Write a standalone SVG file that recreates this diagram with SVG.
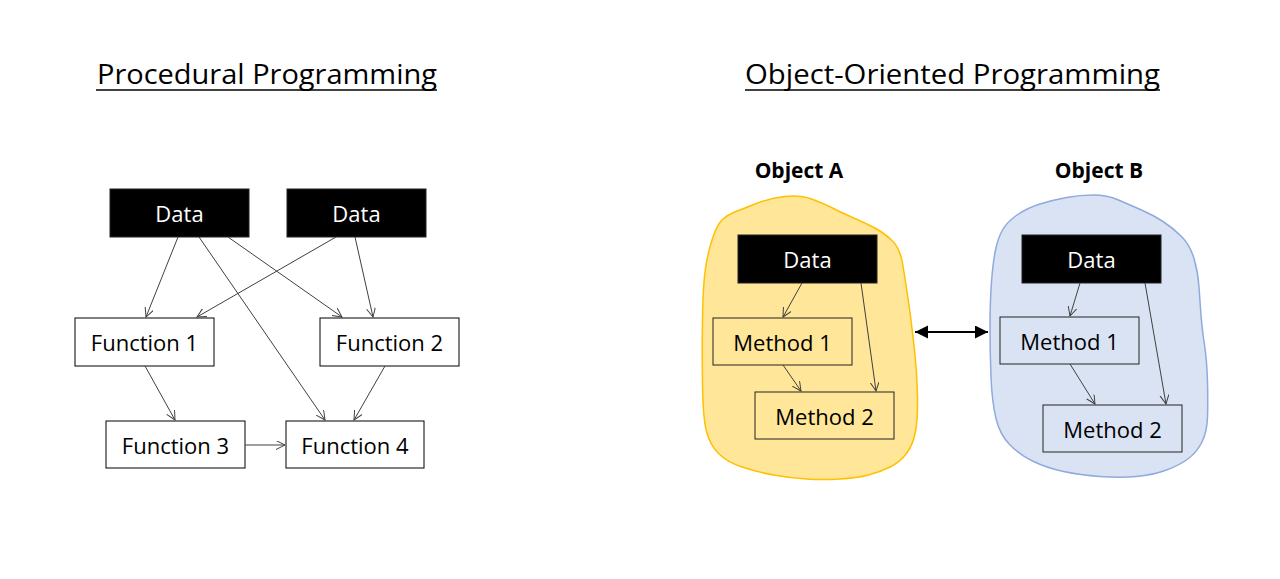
<svg xmlns="http://www.w3.org/2000/svg" width="1280" height="579" viewBox="0 0 1280 579">
<style>
.title{font-family:"Open Sans","Liberation Sans",sans-serif;font-size:28px;fill:#000}
.lbl{font-family:"Open Sans","Liberation Sans",sans-serif;font-size:22px;fill:#000;text-anchor:middle}
.wlbl{font-family:"Open Sans","Liberation Sans",sans-serif;font-size:22px;fill:#fff;text-anchor:middle}
.obj{font-family:"Open Sans","Liberation Sans",sans-serif;font-size:21px;font-weight:bold;fill:#000;text-anchor:middle}
.dbox{fill:#000;stroke:#222;stroke-width:1}
.fbox{fill:#fff;stroke:#000;stroke-width:1}
.mbox{fill:none;stroke:#222;stroke-width:1}
.conn{stroke:#404040;stroke-width:1;fill:none;marker-end:url(#open)}
</style>
<defs>
<marker id="open" markerUnits="userSpaceOnUse" markerWidth="12" markerHeight="12" refX="9" refY="4.5" orient="auto">
<path d="M0,0 L9,4.5 L0,9" fill="none" stroke="#404040" stroke-width="1"/>
</marker>
<marker id="solid" markerUnits="userSpaceOnUse" markerWidth="16" markerHeight="16" refX="13" refY="6.5" orient="auto-start-reverse">
<path d="M0,0 L13,6.5 L0,13 Z" fill="#000"/>
</marker>
</defs>
<rect width="1280" height="579" fill="#fff"/>

<g id="title-procedural">
<text class="title" x="97" y="84" textLength="340" lengthAdjust="spacingAndGlyphs">Procedural Programming</text>
<line x1="96" y1="90" x2="437" y2="90" stroke="#000" stroke-width="1.5"/>
</g>
<g id="title-oop">
<text class="title" x="745" y="84" textLength="415" lengthAdjust="spacingAndGlyphs">Object-Oriented Programming</text>
<line x1="745" y1="90" x2="1160" y2="90" stroke="#000" stroke-width="1.5"/>
</g>

<g id="objectA">
<path d="M755,204 Q770,198 785,196.5 Q800,195 811.5,199 Q823,203 831.5,207.5 Q840,212 851.5,217 Q863,222 873,227 Q883,232 891.5,240 Q900,248 902.5,263 Q905,278 907.5,295 Q910,312 911,320 Q912,328 914.5,350 Q917,372 917.5,395 Q918,418 915.5,431.5 Q913,445 906.5,453.5 Q900,462 890,467 Q880,472 868.5,475 Q857,478 840,479 Q823,480 806.5,479 Q790,478 773.5,475 Q757,472 742,467 Q727,462 718.5,453.5 Q710,445 706.5,431.5 Q703,418 702.5,385 Q702,352 702.5,318.5 Q703,285 705.5,268.5 Q708,252 712.5,238.5 Q717,225 722,220 Q727,215 733.5,212.5 Q740,210 755,204 Z" fill="#FFE699" stroke="#FFC000" stroke-width="1.5"/>
<text class="obj" x="799" y="178">Object A</text>
</g>
<g id="objectB">
<path d="M1017,215 Q1027,208 1040,204 Q1053,200 1066.5,197.5 Q1080,195 1093.5,195 Q1107,195 1118.5,200 Q1130,205 1141.5,210 Q1153,215 1163,221.5 Q1173,228 1181.5,236.5 Q1190,245 1194,258.5 Q1198,272 1199,287 Q1200,302 1201,315 Q1202,328 1204.5,345 Q1207,362 1207.5,382 Q1208,402 1207.5,417 Q1207,432 1202,442 Q1197,452 1188.5,458.5 Q1180,465 1166.5,470 Q1153,475 1136.5,476.5 Q1120,478 1100,476.5 Q1080,475 1063.5,471.5 Q1047,468 1033.5,461.5 Q1020,455 1010,445 Q1000,435 996,418.5 Q992,402 991,377 Q990,352 990,327 Q990,302 991.5,282 Q993,262 995.5,250 Q998,238 1002.5,230 Q1007,222 1017,215 Z" fill="#DAE3F3" stroke="#8FAADC" stroke-width="1.5"/>
<text class="obj" x="1099" y="178">Object B</text>
</g>

<g id="p-data1"><rect class="dbox" x="110" y="189" width="139" height="48"/><text class="wlbl" x="179.5" y="221.5">Data</text></g>
<g id="p-data2"><rect class="dbox" x="287" y="189" width="139" height="48"/><text class="wlbl" x="356.5" y="221.5">Data</text></g>
<g id="p-func1"><rect class="fbox" x="75" y="318" width="139" height="48"/><text class="lbl" x="144.5" y="351">Function 1</text></g>
<g id="p-func2"><rect class="fbox" x="320" y="318" width="139" height="48"/><text class="lbl" x="389.5" y="351">Function 2</text></g>
<g id="p-func3"><rect class="fbox" x="106" y="421" width="139" height="47"/><text class="lbl" x="175.5" y="453.5">Function 3</text></g>
<g id="p-func4"><rect class="fbox" x="286" y="421" width="138" height="47"/><text class="lbl" x="355" y="453.5">Function 4</text></g>

<g id="a-data"><rect class="dbox" x="738" y="235" width="139" height="48"/><text class="wlbl" x="807.5" y="267.5">Data</text></g>
<g id="a-method1"><rect class="mbox" x="713" y="318" width="139" height="47"/><text class="lbl" x="782.5" y="350.5">Method 1</text></g>
<g id="a-method2"><rect class="mbox" x="755" y="392" width="139" height="47"/><text class="lbl" x="824.5" y="424.5">Method 2</text></g>

<g id="b-data"><rect class="dbox" x="1022" y="235" width="139" height="48"/><text class="wlbl" x="1091.5" y="267.5">Data</text></g>
<g id="b-method1"><rect class="mbox" x="1000" y="317" width="139" height="47"/><text class="lbl" x="1069.5" y="349.5">Method 1</text></g>
<g id="b-method2"><rect class="mbox" x="1043" y="405" width="139" height="47"/><text class="lbl" x="1112.5" y="437.5">Method 2</text></g>

<g id="connectors">
<line class="conn" x1="178" y1="237" x2="146" y2="317"/>
<line class="conn" x1="199" y1="237" x2="325" y2="420"/>
<line class="conn" x1="228" y1="237" x2="342" y2="317"/>
<line class="conn" x1="336" y1="237" x2="197" y2="317"/>
<line class="conn" x1="355" y1="237" x2="373" y2="317"/>
<line class="conn" x1="145" y1="366" x2="175" y2="420"/>
<line class="conn" x1="385" y1="366" x2="354" y2="420"/>
<line class="conn" x1="245" y1="445" x2="285" y2="445"/>
<line class="conn" x1="802" y1="283" x2="783" y2="317"/>
<line class="conn" x1="861" y1="283" x2="876" y2="391"/>
<line class="conn" x1="783" y1="365" x2="801" y2="391"/>
<line class="conn" x1="1080" y1="283" x2="1070" y2="316"/>
<line class="conn" x1="1145" y1="283" x2="1166" y2="404"/>
<line class="conn" x1="1070" y1="364" x2="1095" y2="404"/>
<line x1="915" y1="332" x2="988" y2="332" stroke="#000" stroke-width="2" marker-start="url(#solid)" marker-end="url(#solid)"/>
</g>
</svg>
